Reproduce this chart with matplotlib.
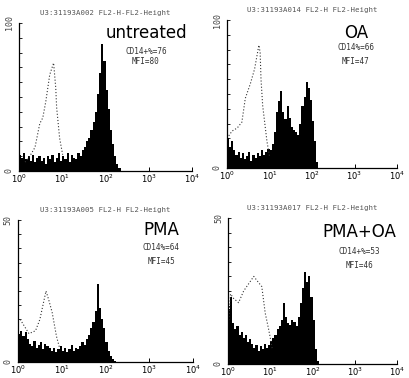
import numpy as np
import matplotlib
matplotlib.use("Agg")
import matplotlib.pyplot as plt

# histogram bins: 0.05 decade wide, starting at 10^0
bin_width = 0.05

# filled histograms (counts per bin)
untreated = [11, 9, 12, 8, 10, 7, 11, 6, 9, 10, 7, 9, 5, 10, 8, 11, 6, 9, 12, 7,
             10, 8, 12, 6, 11, 9, 8, 12, 10, 14, 16, 20, 22, 28, 33, 40, 52, 66,
             86, 74, 55, 42, 28, 18, 10, 5, 2, 0]
oa = [20, 14, 18, 12, 9, 11, 7, 10, 6, 8, 11, 5, 9, 7, 10, 8, 12, 9, 11, 13,
      12, 16, 24, 38, 45, 52, 38, 33, 42, 34, 28, 26, 24, 22, 30, 42, 48, 58,
      54, 46, 32, 18, 4, 0, 0, 0, 0, 0]
pma = [10, 11, 9, 10.5, 8, 6.5, 5.5, 7.5, 5, 6, 7, 4.5, 6.5, 5.5, 5, 4, 5, 3.5,
       4.5, 5.5, 4, 5, 3.5, 4.5, 6, 4, 5, 4.5, 5.5, 7, 6, 8, 9.5, 12, 14, 18,
       27.5, 19, 15, 12, 7, 4, 2, 1, 0.5, 0, 0, 0]
pma_oa = [19, 23, 14, 12, 13, 10, 11, 9, 10, 7.5, 8.5, 7, 5.5, 6.5, 4.5, 6, 5,
          7, 5.5, 6.5, 8, 9, 10, 12, 13, 15, 21, 16, 14, 13.5, 15, 14.5, 13,
          16, 21, 26, 31.5, 28, 30, 23, 15, 5, 1, 0, 0, 0, 0, 0]

# dotted control curves (log10 position, count)
ctl_untreated_log = [0.14, 0.25, 0.37, 0.48, 0.55, 0.62, 0.71, 0.8, 0.85, 0.87, 0.94, 1.01]
ctl_untreated = [6, 10, 16, 32, 36, 47, 65, 73, 56, 43, 22, 11]
ctl_oa_log = [0.0, 0.12, 0.24, 0.35, 0.43, 0.55, 0.65, 0.75, 0.78, 0.8, 0.84, 0.89, 0.94, 1.0]
ctl_oa = [20, 25, 27, 31, 47, 57, 67, 83, 78, 60, 42, 30, 18, 8]
ctl_pma_log = [0.05, 0.15, 0.25, 0.4, 0.5, 0.57, 0.64, 0.7, 0.78, 0.88, 0.95]
ctl_pma = [15, 12.5, 10, 11, 15, 20, 25, 22, 17.5, 9, 5]
ctl_pma_oa_log = [0.02, 0.06, 0.13, 0.25, 0.37, 0.49, 0.61, 0.69, 0.8, 0.88, 0.96, 1.0, 1.05]
ctl_pma_oa = [15, 24, 22.5, 21, 25, 27.5, 30, 28.5, 26.5, 17.5, 12, 9, 5]

titles = ["U3:31193A002 FL2-H-FL2-Height", "U3:31193A014 FL2-H FL2-Height",
          "U3:31193A005 FL2-H FL2-Height", "U3:31193A017 FL2-H FL2-Height"]
names = ["untreated", "OA", "PMA", "PMA+OA"]
cd14 = ["CD14+%=76", "CD14%=66", "CD14%=64", "CD14+%=53"]
mfi = ["MFI=80", "MFI=47", "MFI=45", "MFI=46"]
ymax = [100, 100, 50, 50]

hists = [untreated, oa, pma, pma_oa]
ctl_x = [ctl_untreated_log, ctl_oa_log, ctl_pma_log, ctl_pma_oa_log]
ctl_y = [ctl_untreated, ctl_oa, ctl_pma, ctl_pma_oa]

W, H = 409, 378
fig = plt.figure(figsize=(W / 100, H / 100), dpi=100)

# axes boxes in pixels: x0, x1, y_top, y_bottom
boxes = [(19, 192, 23, 171), (227, 397, 20, 168), (18, 193, 220, 362), (228, 397, 218, 364)]
# text positions in pixels (name center x, name y, cd14 y, mfi y)
name_pos = [(146, 33, 52, 62), (356, 33, 48, 62), (161, 230, 247, 261), (359, 232, 252, 266)]

mono = "DejaVu Sans Mono"

for i in range(4):
    x0, x1, yt, yb = boxes[i]
    ax = fig.add_axes([x0 / W, 1 - yb / H, (x1 - x0) / W, (yb - yt) / H])
    counts = np.array(hists[i])
    edges = 10 ** (np.arange(len(counts) + 1) * bin_width)
    ax.stairs(counts, edges, fill=True, color="black", lw=0)
    ax.plot(10 ** np.array(ctl_x[i]), ctl_y[i], color="#333333", lw=0.8,
            linestyle=(0, (1, 1.8)))

    ax.set_xscale("log")
    ax.set_xlim(1, 1e4)
    ax.set_ylim(0, ymax[i])
    ax.spines["top"].set_visible(False)
    ax.spines["right"].set_visible(False)
    for s in ["left", "bottom"]:
        ax.spines[s].set_linewidth(0.9)

    ax.set_xticks([1, 10, 100, 1000, 10000])
    ax.set_xticklabels([r"$10^0$", r"$10^1$", r"$10^2$", r"$10^3$", r"$10^4$"],
                       fontsize=6, family="serif")
    ax.tick_params(axis="x", which="major", direction="in", length=3, width=0.7, pad=1.5)
    ax.tick_params(axis="x", which="minor", direction="in", length=1.5, width=0.5)

    ax.set_yticks(np.linspace(0, ymax[i], 11))
    ax.set_yticklabels([""] * 11)
    ax.tick_params(axis="y", direction="in", length=2.5, width=0.6)
    ax.text(-0.03, 0, "0", transform=ax.transAxes, rotation=90, ha="right",
            va="center", fontsize=6, family=mono, color="#444444")
    ax.text(-0.03, 1, str(ymax[i]), transform=ax.transAxes, rotation=90, ha="right",
            va="center", fontsize=6, family=mono, color="#444444")

    # header above each panel
    fig.text((x0 + x1) / 2 / W, 1 - (yt - 10) / H, titles[i], ha="center", va="center",
             fontsize=5.3, family=mono, color="#555555")

    cx, ny, cy, my = name_pos[i]
    fig.text(cx / W, 1 - ny / H, names[i], ha="center", va="center", fontsize=12)
    fig.text(cx / W, 1 - cy / H, cd14[i], ha="center", va="center", fontsize=5.5,
             family=mono, color="#333333")
    fig.text(cx / W, 1 - my / H, mfi[i], ha="center", va="center", fontsize=5.5,
             family=mono, color="#333333")

fig.savefig("out.png", dpi=100)
